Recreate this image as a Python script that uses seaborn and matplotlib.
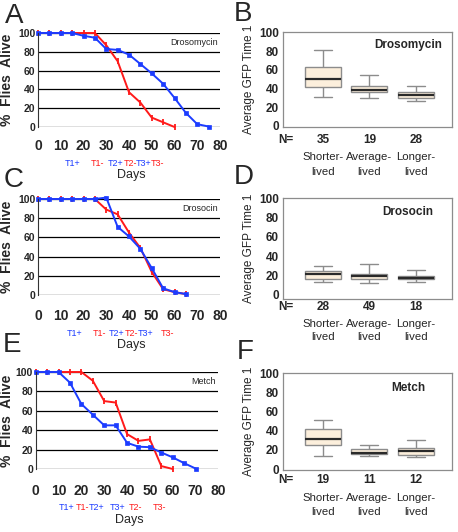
import seaborn as sns
import pandas as pd
import numpy as np
import matplotlib.pyplot as plt

# ---------------- data ----------------
# survival curves (% flies alive), + = high GFP (blue), - = low GFP (red)
drosomycin_days_plus = [0, 5, 10, 15, 20, 25, 30, 35, 40, 45, 50, 55, 60, 65, 70, 75]
drosomycin_plus = [100, 100, 100, 100, 97, 95, 83, 82, 77, 67, 57, 46, 31, 15, 3, 0.5]
drosomycin_days_minus = [0, 5, 10, 15, 20, 25, 30, 35, 40, 45, 50, 55, 60]
drosomycin_minus = [100, 100, 100, 100, 100, 100, 87, 70, 37, 26, 10, 5, 0]

drosocin_days_plus = [0, 5, 10, 15, 20, 25, 30, 35, 40, 45, 50, 55, 60, 65]
drosocin_plus = [100, 100, 100, 100, 100, 100, 101.5, 71, 61, 48, 28, 7, 3, 1]
drosocin_days_minus = [0, 5, 10, 15, 20, 25, 30, 35, 40, 45, 50, 55, 60, 65]
drosocin_minus = [100, 100, 100, 100, 100, 100, 89, 84, 65, 49, 24, 6, 3, 1]

metch_days_plus = [0, 5, 10, 15, 20, 25, 30, 35, 40, 45, 50, 55, 60, 65, 70]
metch_plus = [100, 100, 100, 89, 67, 56, 45, 45, 27, 23, 22.5, 17, 12, 6, 0.5]
metch_days_minus = [0, 5, 10, 15, 20, 25, 30, 35, 40, 45, 50, 55, 60]
metch_minus = [100, 100, 100, 100, 100, 91, 70, 68.5, 36, 29, 30.5, 3, 0]

# time point markers under the x axis
drosomycin_t_labels = ['T1+', 'T1-', 'T2+', 'T2-', 'T3+', 'T3-']
drosomycin_t_days = [15, 26, 34, 40.5, 46.5, 52.5]
drosocin_t_labels = ['T1+', 'T1-', 'T2+', 'T2-', 'T3+', 'T3-']
drosocin_t_days = [16, 27, 34.5, 41, 47.5, 57]
metch_t_labels = ['T1+', 'T1-', 'T2+', 'T3+', 'T2-', 'T3-']
metch_t_days = [13.5, 20.5, 26.5, 36, 43.5, 54]

# boxplots: [min, q1, median, q3, max] of average GFP at time 1
groups = ['Shorter-lived', 'Average-lived', 'Longer-lived']
drosomycin_box = [[31, 42, 50, 63, 81], [29.7, 35.7, 38.5, 43, 54], [27, 30, 33, 36, 43]]
drosocin_box = [[13.8, 17, 21.7, 25, 30], [12, 16.5, 19.6, 22, 31.7], [13.5, 16, 18, 19.6, 26]]
metch_box = [[14, 25.4, 31.3, 42, 51], [13.6, 16, 17, 21, 25], [12.5, 15, 19, 22, 30.6]]
drosomycin_n = [35, 19, 28]
drosocin_n = [28, 49, 18]
metch_n = [19, 11, 12]

BLUE = '#1c3cff'
RED = '#ff1a1a'
ARIAL = ['Liberation Sans', 'DejaVu Sans']

sns.set_theme(style='white')
plt.rcParams['font.family'] = ARIAL

fig = plt.figure(figsize=(4.58, 5.32), dpi=100)
W, H = 458, 532


def px_axes(left, top, right, bottom):
    return fig.add_axes([left / W, 1 - bottom / H, (right - left) / W, (bottom - top) / H])


def survival_panel(ax, dp, yp, dm, ym, tlabels, tdays, name, tick_off, t_off, days_off):
    sns.lineplot(x=dm, y=ym, ax=ax, color=RED, lw=1.4, marker='|', markersize=4,
                 markeredgewidth=1.3, markeredgecolor=RED, clip_on=False)
    sns.lineplot(x=dp, y=yp, ax=ax, color=BLUE, lw=1.4, marker='s', markersize=2.8,
                 markeredgewidth=0.5, markeredgecolor=BLUE, clip_on=False)
    ax.set_xlim(0, 80)
    ax.set_ylim(0, 100)
    ax.set_xticks(range(0, 81, 10))
    ax.set_yticks(range(0, 101, 20))
    ax.yaxis.grid(True, color='black', lw=0.9)
    ax.xaxis.grid(False)
    for s in ['top', 'right', 'bottom']:
        ax.spines[s].set_visible(False)
    ax.spines['left'].set_color('#333333')
    ax.spines['left'].set_linewidth(0.8)
    ax.tick_params(axis='x', length=0, pad=tick_off, labelsize=10)
    ax.tick_params(axis='y', length=0, pad=2, labelsize=7.5)
    for lab in ax.get_xticklabels() + ax.get_yticklabels():
        lab.set_fontweight('bold')
    ax.set_ylabel('%  Flies  Alive', fontsize=10, fontweight='bold')
    # right edge of the rotated label sits ~14 px from the figure edge
    left_px = ax.get_position().x0 * W
    width_px = ax.get_position().width * W
    ax.yaxis.set_label_coords((14 - left_px) / width_px, 0.5)
    ax.set_xlabel('')
    for lab, d in zip(tlabels, tdays):
        c = BLUE if lab.endswith('+') else RED
        ax.annotate(lab, xy=(d, 0), xycoords=('data', 'axes fraction'),
                    xytext=(0, -t_off), textcoords='offset pixels',
                    ha='center', va='center', fontsize=6.5, color=c)
    ax.annotate('Days', xy=(0.51, 0), xycoords='axes fraction',
                xytext=(0, -days_off), textcoords='offset pixels',
                ha='center', va='center', fontsize=9)
    ax.text(79, 90, name, ha='right', va='center', fontsize=6.5)


def box_panel(ax, stats, counts, name, ylo, n_off, l1_off, l2_off, name_y):
    df = pd.DataFrame({'group': np.repeat(groups, 5), 'gfp': np.concatenate(stats)})
    sns.boxplot(data=df, x='group', y='gfp', order=groups, ax=ax, whis=(0, 100),
                width=0.78, color='#fcefdc', saturation=1, linecolor='#8c8c8c',
                linewidth=1, showfliers=False,
                medianprops=dict(color='#2a2a2a', linewidth=1.6))
    ax.set_xlim(-0.86, 2.78)
    ax.set_ylim(ylo, 100)
    ax.set_yticks(range(0, 101, 20))
    ax.set_xticks([])
    ax.set_xlabel('')
    ax.set_ylabel('Average GFP Time 1', fontsize=8.5, labelpad=3)
    for s in ax.spines.values():
        s.set_color('#8c8c8c')
        s.set_linewidth(0.9)
        s.set_visible(True)
    ax.tick_params(axis='y', length=0, pad=3, labelsize=8.5)
    for lab in ax.get_yticklabels():
        lab.set_fontweight('bold')
    ax.text(1.83, name_y, name, ha='center', va='center', fontsize=8.5, fontweight='bold')
    ax.annotate('N=', xy=(-0.8, 0), xycoords=('data', 'axes fraction'),
                xytext=(0, -n_off), textcoords='offset pixels',
                ha='center', va='center', fontsize=8.5, fontweight='bold')
    for i, (g, n) in enumerate(zip(groups, counts)):
        ax.annotate(str(n), xy=(i, 0), xycoords=('data', 'axes fraction'),
                    xytext=(0, -n_off), textcoords='offset pixels',
                    ha='center', va='center', fontsize=8.5, fontweight='bold')
        first, second = g.split('-')
        ax.annotate(first + '-', xy=(i, 0), xycoords=('data', 'axes fraction'),
                    xytext=(0, -l1_off), textcoords='offset pixels',
                    ha='center', va='center', fontsize=8.2)
        ax.annotate(second, xy=(i, 0), xycoords=('data', 'axes fraction'),
                    xytext=(0, -l2_off), textcoords='offset pixels',
                    ha='center', va='center', fontsize=8.2)


ax_a = px_axes(38, 33, 220, 127)
survival_panel(ax_a, drosomycin_days_plus, drosomycin_plus, drosomycin_days_minus,
               drosomycin_minus, drosomycin_t_labels, drosomycin_t_days, 'Drosomycin', 9, 36, 48)
ax_c = px_axes(38, 199, 220, 295)
survival_panel(ax_c, drosocin_days_plus, drosocin_plus, drosocin_days_minus,
               drosocin_minus, drosocin_t_labels, drosocin_t_days, 'Drosocin', 10, 38, 50)
ax_e = px_axes(35.7, 372, 218.4, 469)
survival_panel(ax_e, metch_days_plus, metch_plus, metch_days_minus,
               metch_minus, metch_t_labels, metch_t_days, 'Metch', 10.5, 38, 51)

ax_b = px_axes(283, 32.3, 452, 127.3)
box_panel(ax_b, drosomycin_box, drosomycin_n, 'Drosomycin', -1.5, 12.7, 29.7, 44.7, 86.5)
ax_d = px_axes(283, 198.3, 452, 299.3)
box_panel(ax_d, drosocin_box, drosocin_n, 'Drosocin', -4.5, 7.4, 24.7, 37.4, 86)
ax_f = px_axes(283, 373.3, 452, 470)
box_panel(ax_f, metch_box, metch_n, 'Metch', -1, 10, 28, 41.7, 84.7)

for letter, x, y in [('A', 14, 16), ('B', 243, 14), ('C', 14, 180),
                     ('D', 244, 177), ('E', 12, 345), ('F', 245, 352)]:
    fig.text(x / W, 1 - y / H, letter, ha='center', va='center', fontsize=20)

fig.savefig('out.png', dpi=100)
